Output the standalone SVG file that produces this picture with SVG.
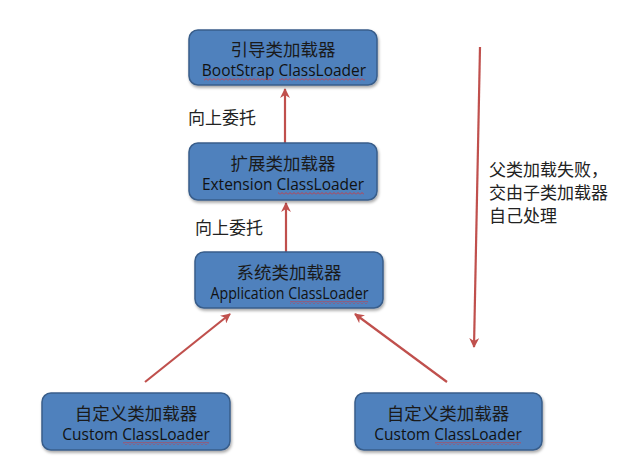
<svg xmlns="http://www.w3.org/2000/svg" width="628" height="473" viewBox="0 0 628 473">
<defs>
<marker id="ah" viewBox="0 0 10 10" refX="9" refY="5" markerWidth="4.5" markerHeight="4.5" orient="auto" markerUnits="strokeWidth">
<path d="M0,0 L10,5 L0,10 L3,5 Z" fill="#C0504D"/>
</marker>
<pattern id="wave" x="0" y="0" width="4" height="3" patternUnits="userSpaceOnUse">
<path d="M0,2.5 L2,0.5 L4,2.5" fill="none" stroke="#E03030" stroke-width="0.8"/>
</pattern>
<filter id="sh" x="-10%" y="-10%" width="130%" height="140%">
<feGaussianBlur in="SourceAlpha" stdDeviation="1.5"/>
<feOffset dx="1" dy="2" result="b"/>
<feComponentTransfer><feFuncA type="linear" slope="0.35"/></feComponentTransfer>
<feMerge><feMergeNode/><feMergeNode in="SourceGraphic"/></feMerge>
</filter>
</defs>
<style>
.box{fill:#4F81BD;stroke:#385D8A;stroke-width:1.5;filter:url(#sh)}
.zh{font-family:"Noto Sans CJK SC","Noto Sans",sans-serif;font-size:17.5px;fill:#1a1a1a;text-anchor:middle}
.en{font-family:"Open Sans","Liberation Sans",sans-serif;font-size:15.5px;fill:#111;text-anchor:middle}
.lbl{font-family:"Noto Sans CJK SC","Noto Sans",sans-serif;font-size:17px;fill:#222}
.arr{stroke:#C0504D;stroke-width:2.2;fill:none;marker-end:url(#ah)}
.sq{fill:url(#wave)}
</style>
<rect width="628" height="473" fill="#fff"/>
<g id="connectors">
<line class="arr" x1="285" y1="143" x2="285" y2="89"/>
<line class="arr" x1="286" y1="252" x2="286" y2="203"/>
<line class="arr" x1="145" y1="382" x2="230" y2="314"/>
<line class="arr" x1="447" y1="382" x2="355" y2="314"/>
<line class="arr" x1="480" y1="47" x2="474" y2="347"/>
</g>
<g id="n1">
<rect class="box" x="189" y="30" width="188" height="55" rx="9"/>
<text class="zh" x="283" y="56">引导类加载器</text>
<text class="en" x="284" y="76">BootStrap ClassLoader</text>
<rect class="sq" x="204" y="78" width="68" height="3"/>
<rect class="sq" x="279" y="78" width="86" height="3"/>
</g>
<g id="n2">
<rect class="box" x="189" y="143" width="188" height="57" rx="9"/>
<text class="zh" x="283" y="170">扩展类加载器</text>
<text class="en" x="283" y="190">Extension ClassLoader</text>
<rect class="sq" x="278" y="192" width="86" height="3"/>
</g>
<g id="n3">
<rect class="box" x="195" y="252" width="188" height="56" rx="9"/>
<text class="zh" x="289" y="279">系统类加载器</text>
<text class="en" x="289.5" y="299" textLength="158" lengthAdjust="spacingAndGlyphs">Application ClassLoader</text>
<rect class="sq" x="290" y="301" width="78" height="3"/>
</g>
<g id="n4">
<rect class="box" x="42" y="393" width="188" height="57" rx="9"/>
<text class="zh" x="136" y="420">自定义类加载器</text>
<text class="en" x="136" y="440">Custom ClassLoader</text>
<rect class="sq" x="123" y="442" width="86" height="3"/>
</g>
<g id="n5">
<rect class="box" x="355" y="393" width="187" height="57" rx="9"/>
<text class="zh" x="448" y="420">自定义类加载器</text>
<text class="en" x="448" y="440">Custom ClassLoader</text>
<rect class="sq" x="435" y="442" width="86" height="3"/>
</g>
<g id="labels">
<text class="lbl" x="188" y="124">向上委托</text>
<text class="lbl" x="195" y="234">向上委托</text>
<text class="lbl" x="489" y="176">父类加载失败，</text>
<text class="lbl" x="489" y="199">交由子类加载器</text>
<text class="lbl" x="489" y="222">自己处理</text>
</g>
</svg>
